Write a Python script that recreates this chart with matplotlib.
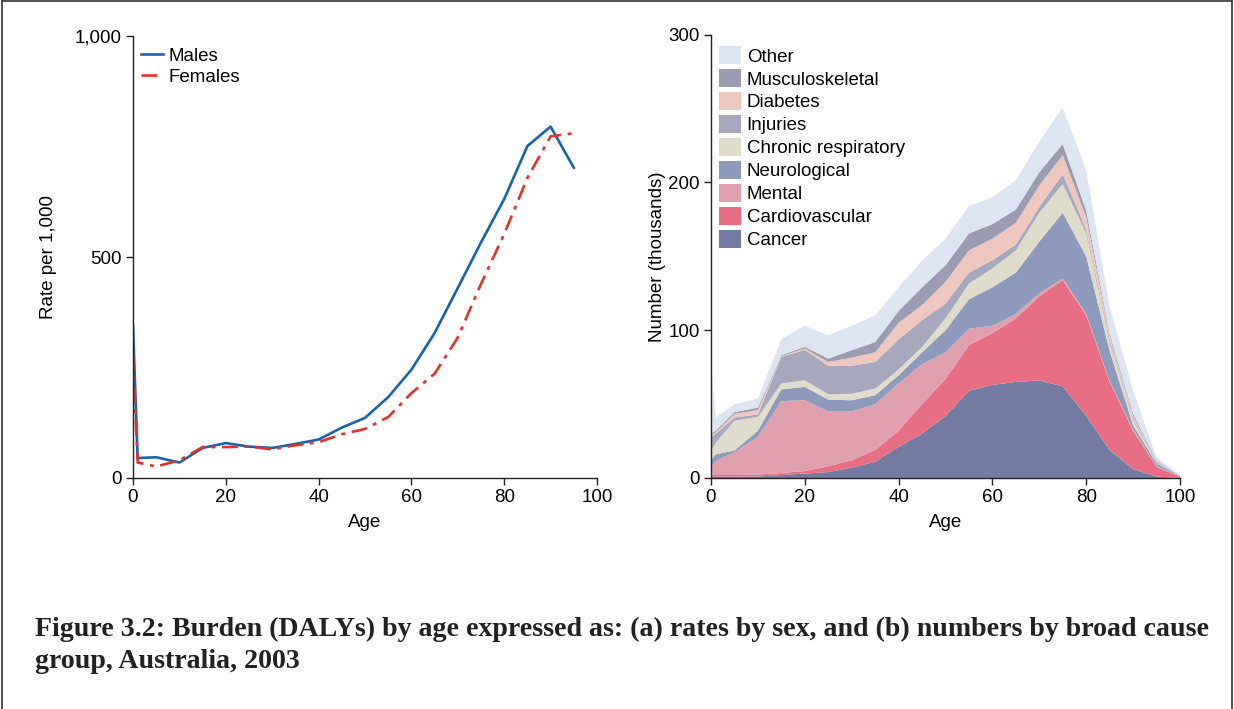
import numpy as np
import matplotlib
matplotlib.use("Agg")
import matplotlib.pyplot as plt

plt.rcParams['font.family'] = ['Liberation Sans', 'DejaVu Sans']

# (a) rates per 1,000 by sex
rate_ages = [0, 1, 5, 10, 15, 20, 25, 30, 35, 40, 45, 50, 55, 60, 65, 70, 75, 80, 85, 90, 95]
males = [345, 45, 47, 35, 68, 79, 71, 68, 77, 87, 114, 136, 183, 245, 328, 430, 533, 631, 751, 795, 702]
females = [281, 35, 26, 40, 70, 70, 71, 65, 74, 81, 99, 111, 138, 192, 236, 318, 439, 552, 679, 773, 780]

# (b) numbers (thousands) by broad cause group
ages = [0, 1, 5, 10, 15, 20, 25, 30, 35, 40, 45, 50, 55, 60, 65, 70, 75, 80, 85, 90, 95, 100]
cancer = [1, 1, 1, 1, 2, 3, 4, 7, 11, 21, 30, 42, 59, 63, 65, 66, 62, 42, 19, 6, 1, 0]
cardiovascular = [1, 1.5, 1.5, 1.3, 1.4, 1.7, 4, 5, 8, 11, 20, 25, 31, 35, 43, 57, 72, 68, 46, 26, 6.5, 1]
mental = [5.5, 9, 15, 25.7, 48.6, 48, 37, 33, 31, 32, 27, 18, 11, 5, 3, 2, 1, 1, 0.5, 1, 0.5, 0.2]
neurological = [4.5, 4.5, 1.1, 4, 8, 9, 8, 7.6, 6, 5.5, 8, 15, 20, 26, 28, 35, 44.5, 39, 20.5, 2.7, 1.7, 0.2]
chronic_resp = [6.7, 7.7, 20.3, 9.3, 4, 4.4, 3.7, 4.4, 4.5, 3.9, 3.7, 8, 10.6, 12.8, 15, 19.5, 19.5, 15.5, 6, 3.3, 0.3, 0.05]
injuries = [9.1, 6.3, 2, 1.7, 18, 20.5, 19.3, 19, 18, 20.3, 18.1, 10, 7.4, 5.6, 4, 4, 6.6, 2.5, 2, 1, 0.8, 0.05]
diabetes = [1.2, 1, 2.5, 3, 0.4, 1.1, 2.5, 5.5, 6.5, 11.3, 10.2, 14.7, 15, 14.6, 14.7, 14.5, 12.9, 8.7, 2.6, 2, 0.7, 0.05]
musculoskeletal = [1, 1, 1.2, 1.6, 0.6, 1.1, 2.3, 5, 7, 8, 12, 11.3, 11.5, 9.8, 9, 9, 7.5, 4.3, 1.4, 1.6, 0.5, 0.05]
other = [47, 9, 5.3, 6.1, 11, 14.3, 15.8, 16.5, 18, 16, 18, 18, 18.5, 18.2, 19.9, 20.5, 24.8, 27, 18, 15.4, 2, 0.2]

cause_names = ["Cancer", "Cardiovascular", "Mental", "Neurological", "Chronic respiratory",
               "Injuries", "Diabetes", "Musculoskeletal", "Other"]
cause_colors = ["#737ba0", "#e86f83", "#e0a0ae", "#8e9abb", "#dfdccb",
                "#a7a7be", "#eec7bf", "#9b9bb2", "#dde5f3"]

fig = plt.figure(figsize=(12.34, 7.09), dpi=100)

tick_fs = 13.5


def style_axes(ax):
    for side in ["top", "right"]:
        ax.spines[side].set_visible(False)
    for side in ["left", "bottom"]:
        ax.spines[side].set_color("#222222")
        ax.spines[side].set_linewidth(1.0)
    ax.tick_params(direction="out", length=5, width=1, color="#222222",
                   labelsize=tick_fs, pad=3)


# left panel
ax1 = fig.add_axes([133 / 1234, 1 - 478 / 709, (597 - 133) / 1234, (478 - 36) / 709])
ax1.plot(rate_ages, males, color="#1764ab", lw=1.9, label="Males")
ax1.plot(rate_ages, females, color="#e5312b", lw=1.9, ls=(0, (6, 2.5, 1.5, 2.5)), label="Females")
ax1.set_xlim(0, 100)
ax1.set_ylim(0, 1000)
ax1.set_xticks([0, 20, 40, 60, 80, 100])
ax1.set_yticks([0, 500, 1000])
ax1.set_yticklabels(["0", "500", "1,000"])
ax1.set_xlabel("Age", fontsize=tick_fs, labelpad=6)
ax1.set_ylabel("Rate per 1,000", fontsize=tick_fs, labelpad=13)
style_axes(ax1)
ax1.legend(loc="upper left", frameon=False, fontsize=tick_fs, handlelength=1.2,
           handletextpad=0.3, labelspacing=0.2, borderaxespad=0.0,
           bbox_to_anchor=(0.0, 0.99))

# right panel
ax2 = fig.add_axes([711 / 1234, 1 - 478 / 709, (1180 - 711) / 1234, (478 - 34.7) / 709])
layers = [cancer, cardiovascular, mental, neurological, chronic_resp,
          injuries, diabetes, musculoskeletal, other]
polys = ax2.stackplot(ages, *layers, colors=cause_colors, labels=cause_names, lw=0)
ax2.set_xlim(0, 100)
ax2.set_ylim(0, 300)
ax2.set_xticks([0, 20, 40, 60, 80, 100])
ax2.set_yticks([0, 100, 200, 300])
ax2.set_xlabel("Age", fontsize=tick_fs, labelpad=6)
ax2.set_ylabel("Number (thousands)", fontsize=tick_fs, labelpad=2)
style_axes(ax2)
ax2.legend(polys[::-1], cause_names[::-1], loc="upper left", frameon=False,
           fontsize=tick_fs, handlelength=1.2, handleheight=1.1, handletextpad=0.3,
           labelspacing=0.19, borderaxespad=0.0, bbox_to_anchor=(0.0, 0.991))

# caption
cap_font = dict(family=["Liberation Serif", "DejaVu Serif"], weight="bold", fontsize=20.1, color="#222222")
fig.text(35 / 1234, 1 - 636 / 709, "Figure 3.2: Burden (DALYs) by age expressed as: (a) rates by sex, "
         "and (b) numbers by broad cause", va="baseline", ha="left", **cap_font)
fig.text(35 / 1234, 1 - 668 / 709, "group, Australia, 2003", va="baseline", ha="left", **cap_font)

# frame lines around the figure
frame_kw = dict(color="#333333", lw=1.2, transform=fig.transFigure)
fig.add_artist(plt.Line2D([0.0015, 0.9985], [0.998, 0.998], **frame_kw))
fig.add_artist(plt.Line2D([0.0015, 0.0015], [0.0, 0.998], **frame_kw))
fig.add_artist(plt.Line2D([0.9985, 0.9985], [0.0, 0.998], **frame_kw))

fig.savefig("out.png", dpi=100)
